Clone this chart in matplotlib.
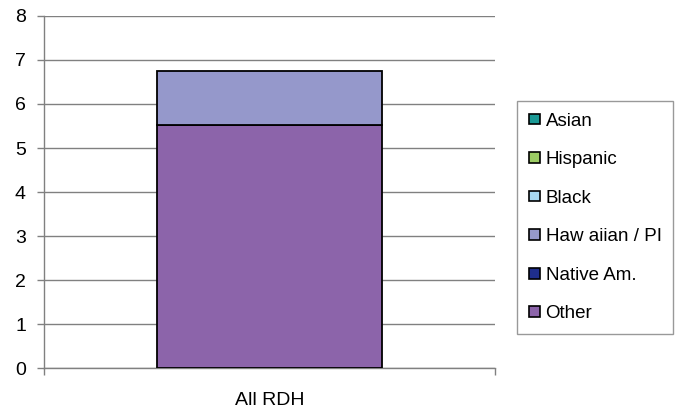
import matplotlib
matplotlib.use("Agg")
import matplotlib.pyplot as plt
from matplotlib.patches import Patch

plt.rcParams['font.family'] = ['Liberation Sans', 'DejaVu Sans']

categories = ["All RDH"]
series_names = ["Other", "Native Am.", "Hawaiian / PI", "Black", "Hispanic", "Asian"]
legend_labels = ["Other", "Native Am.", "Haw aiian / PI", "Black", "Hispanic", "Asian"]
series_values = {
    "Other": [5.52],
    "Native Am.": [0.0],
    "Hawaiian / PI": [1.23],
    "Black": [0.0],
    "Hispanic": [0.0],
    "Asian": [0.0],
}
colors = {
    "Other": "#8c64aa",
    "Native Am.": "#1f2e8c",
    "Hawaiian / PI": "#9598cb",
    "Black": "#a8d8f0",
    "Hispanic": "#9ccc64",
    "Asian": "#1a9995",
}
yticks = [0, 1, 2, 3, 4, 5, 6, 7, 8]

fig = plt.figure(figsize=(6.78, 4.11), dpi=100)
ax = fig.add_axes([44/678, 1-368/411, (495-44)/678, (368-16)/411])

x = list(range(len(categories)))
bottom = [0.0] * len(categories)
for name in series_names:
    vals = series_values[name]
    if any(v > 0 for v in vals):
        ax.bar(x, vals, width=0.5, bottom=bottom, color=colors[name],
               edgecolor="black", linewidth=1.3, zorder=3)
    bottom = [b + v for b, v in zip(bottom, vals)]

ax.set_xlim(-0.5, 0.5)
ax.set_ylim(0, 8)
ax.set_yticks(yticks)
ax.set_yticklabels([str(t) for t in yticks], fontsize=14)
ax.set_xticks(x)
ax.set_xticklabels(categories, fontsize=14)
ax.tick_params(axis='x', length=0, pad=17)
ax.tick_params(axis='y', length=5, color="#808080", width=1, pad=8)
ax.set_xticks([-0.5, 0.5], minor=True)
ax.tick_params(axis='x', which='minor', length=5, color="#808080", width=1)
ax.yaxis.grid(True, color="#808080", linewidth=1, zorder=0)
ax.set_axisbelow(True)
for s in ["top", "right"]:
    ax.spines[s].set_visible(False)
for s in ["left", "bottom"]:
    ax.spines[s].set_color("#808080")
    ax.spines[s].set_linewidth(1)

handles = [Patch(facecolor=colors[n], edgecolor="black", linewidth=1.2) for n in series_names]
h = handles[::-1]
l = legend_labels[::-1]
leg = fig.legend(h, l, loc="upper left", bbox_to_anchor=(517/678, 1-101/411),
                 fontsize=13.5, frameon=True, fancybox=False, edgecolor="#808080",
                 handlelength=0.6, handleheight=0.5, handletextpad=0.3,
                 labelspacing=1.15, borderpad=0.62, borderaxespad=0)
leg.get_frame().set_linewidth(1)

fig.savefig("out.png", dpi=100)
